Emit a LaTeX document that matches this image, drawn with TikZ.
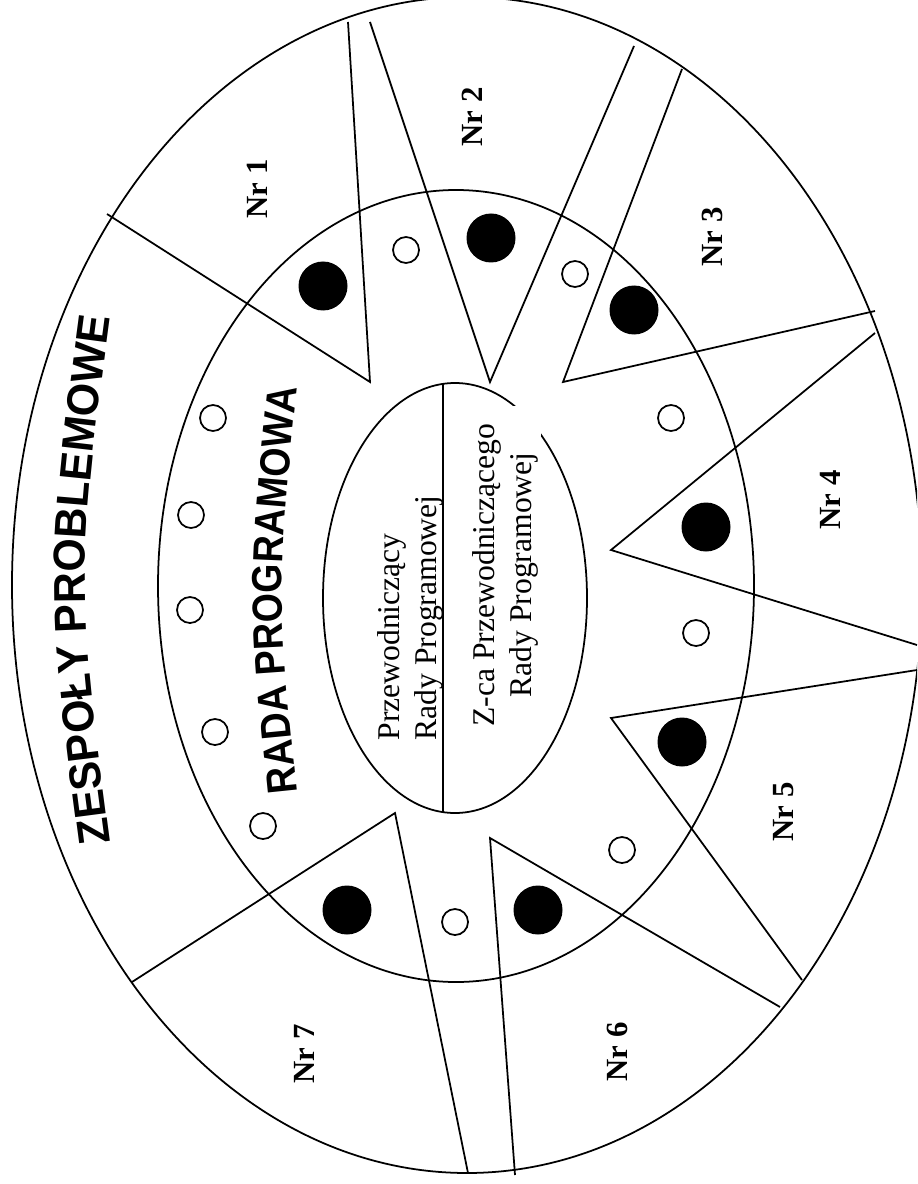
\documentclass[tikz,border=0pt]{standalone}
\usepackage{fontspec}
\setmainfont{Liberation Serif}
\newfontfamily\groupsfont{Liberation Sans}[FakeStretch=0.96]
\newfontfamily\councilfont{Liberation Sans}[FakeStretch=0.89]
\newcommand\groupstitle{\groupsfont\bfseries\fontsize{25.4}{28}\selectfont}
\newcommand\counciltitle{\councilfont\bfseries\fontsize{24}{26}\selectfont}
\usetikzlibrary{decorations.text}

\begin{document}
\begin{tikzpicture}[x=0.2mm, y=-0.2mm, line width=1pt,
  nrlabel/.style={rotate=90, font=\fontsize{17.5}{20}\selectfont\bfseries},
  office/.style={rotate=90, font=\fontsize{18}{21}\selectfont, inner sep=2pt}]
  \useasboundingbox (0,0) rectangle (917,1184);
  \clip (0,0) rectangle (917,1184);
  % ellipses: problem groups, programme council, chairmen
  \draw (467,585) ellipse [x radius=455, y radius=588];
  \draw (456,586) ellipse [x radius=298, y radius=396];
  \draw (455,598) ellipse [x radius=132, y radius=215];
  \draw (443,383) -- (443,812);
  % wedges of the groups Nr 1..7
  \foreach \p/\q/\r in {{(107,214)}/{(370,382)}/{(348,22)},
                        {(370,22)}/{(490,382)}/{(634,46)},
                        {(682,69)}/{(563,382)}/{(875,311)},
                        {(875,333)}/{(611,550)}/{(917,645)},
                        {(917,670)}/{(611,718)}/{(802,980)},
                        {(780,1007)}/{(490,838)}/{(515,1175)},
                        {(132,982)}/{(395,813)}/{(468,1173)}}
    \draw \p -- \q -- \r;
  % group members in the council
  \foreach \pos in {(323,286),(491,238),(634,310),(706,527),(682,742),(538,910),(347,910)}
    \fill \pos circle (24.5);
  % other council members
  \foreach \pos in {(406,250),(575,274),(671,418),(696,633),(622,850),(455,922),
                    (263,826),(215,732),(190,610),(191,515),(213,418)}
    \draw \pos circle (13);
  % group labels
  \foreach \x/\y/\n in {257/189/1, 472/117/2, 712/237/3, 830/500/4,
                        784/812/5, 617/1052/6, 304/1054/7}
    \node[nrlabel] (nr\n) at (\x,\y) {Nr \n};
  % titles, slightly arched
  \path[decorate, decoration={text along path, text align=center,
      text={|\groupstitle|ZESPOŁY PROBLEMOWE}}]
    (115,880) .. controls (75,580) .. (115,280);
  \path[decorate, decoration={text along path, text align=center,
      text={|\counciltitle|RADA PROGRAMOWA}}]
    (300,820) .. controls (276,590) .. (300,360);
  % chairmen
  \node[office, align=left] (chair) at (410,618) {Przewodniczący\\Rady Programowej};
  \node[office, align=center, fill=white, inner xsep=10pt]
    (deputy) at (505,575) {Z-ca Przewodniczącego\\Rady Programowej};
\end{tikzpicture}
\end{document}
